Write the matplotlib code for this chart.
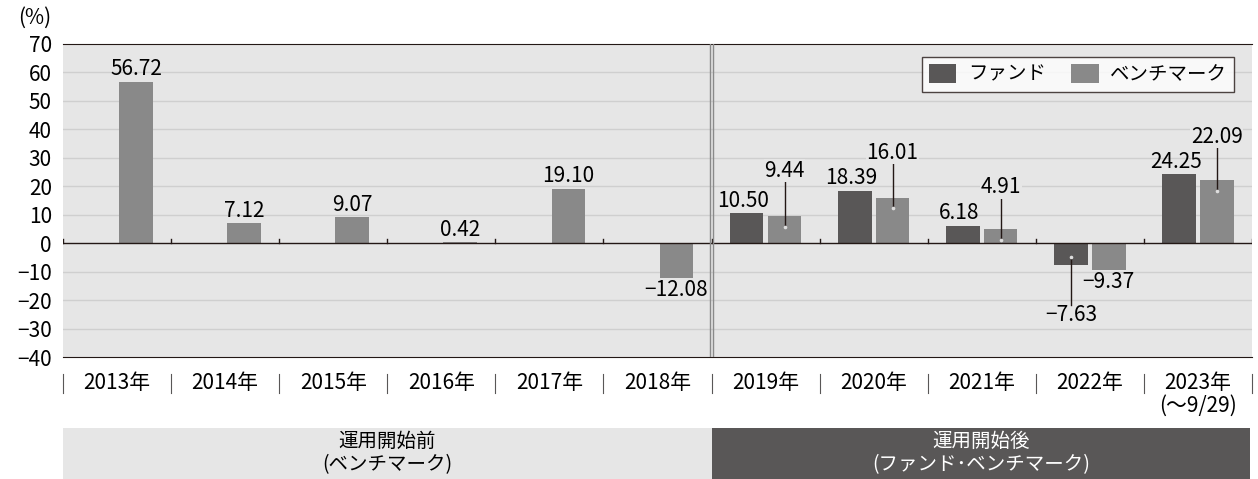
import numpy as np
import matplotlib
matplotlib.use("Agg")
import matplotlib.pyplot as plt
from matplotlib.patches import Rectangle, Patch

plt.rcParams['font.family'] = ['Noto Sans CJK JP', 'DejaVu Sans']

# ******* data *******
years = ['2013年', '2014年', '2015年', '2016年', '2017年', '2018年',
         '2019年', '2020年', '2021年', '2022年', '2023年']
fund = [None, None, None, None, None, None, 10.50, 18.39, 6.18, -7.63, 24.25]
bench = [56.72, 7.12, 9.07, 0.42, 19.10, -12.08, 9.44, 16.01, 4.91, -9.37, 22.09]
yticks = [70, 60, 50, 40, 30, 20, 10, 0, -10, -20, -30, -40]
# label y-position (value units) for labels that use a leader line
fund_lead = {9: -25.1}
bench_lead = {6: 25.5, 7: 31.8, 8: 19.6, 10: 37.4}

c_fund = '#595757'
c_bench = '#898989'
c_bg = '#e6e6e6'
fs = 15

fig = plt.figure(figsize=[12.58, 4.79], dpi=100)
ax = fig.add_axes([63 / 1258, 1 - 357 / 479, (1252 - 63) / 1258, (357 - 44) / 479])
ax.set_facecolor(c_bg)
ax.set_xlim(0, 11)
ax.set_ylim(-40, 70)

for y in yticks[1:-1]:
    if y != 0:
        ax.axhline(y, color='#cfcfcf', lw=1, zorder=0)

w = 0.31
off = 0.175
x = np.arange(len(years)) + 0.5
for i in range(len(years)):
    # benchmark
    xb = x[i] + off
    v = bench[i]
    ax.bar(xb, v, width=w, color=c_bench, zorder=2)
    if i in bench_lead:
        ly = bench_lead[i]
        ax.plot([xb, xb], [v - 3.8, ly - 3.2], color='#231815', lw=1, zorder=3,
                solid_capstyle='round')
        ax.plot(xb, v - 3.8, 'o', ms=1.6, color='#dddddd', zorder=4)
        ax.text(xb, ly, f"{v:.2f}".replace('-', '−'), ha='center', va='center',
                fontsize=fs, zorder=5,
                bbox=dict(facecolor=c_bg, edgecolor='none', pad=0.5))
    else:
        ax.annotate(f"{v:.2f}".replace('-', '−'), (xb, v),
                    xytext=(0, 1 if v >= 0 else -1), textcoords='offset points',
                    ha='center', va='bottom' if v >= 0 else 'top', fontsize=fs,
                    zorder=5)
    # fund
    if fund[i] is not None:
        xf = x[i] - off
        v = fund[i]
        ax.bar(xf, v, width=w, color=c_fund, zorder=2)
        if i in fund_lead:
            ly = fund_lead[i]
            ax.plot([xf, xf], [v + 2.7, ly + 3.2], color='#231815', lw=1, zorder=3)
            ax.plot(xf, v + 2.7, 'o', ms=1.6, color='#dddddd', zorder=4)
            ax.text(xf, ly, f"{v:.2f}".replace('-', '−'), ha='center', va='center',
                    fontsize=fs, zorder=5)
        else:
            ax.annotate(f"{v:.2f}", (xf - 0.03, v), xytext=(0, 1),
                        textcoords='offset points', ha='center', va='bottom',
                        fontsize=fs, zorder=5)

# zero line with small upward ticks at category boundaries
ax.axhline(0, color='#231815', lw=1, zorder=3)
for b in range(len(years) + 1):
    ax.plot([b, b], [0, 1.5], color='#231815', lw=1, zorder=3)

# divider between before / after
ax.axvline(5.985, color='#8a8a8a', lw=1, zorder=4)
ax.axvline(6.015, color='#8a8a8a', lw=1, zorder=4)

ax.set_yticks(yticks)
ax.set_yticklabels([str(t).replace('-', '−') for t in yticks], fontsize=fs)
ax.tick_params(axis='y', length=0, pad=8)
ax.set_xticks([])
for s in ['left', 'right']:
    ax.spines[s].set_visible(False)
ax.spines['top'].set_color('#231815')
ax.spines['bottom'].set_color('#231815')
fig.text(18 / 1258, 1 - 18 / 479, '(%)', fontsize=fs, va='center', ha='left')

handles = [Patch(facecolor=c_fund, edgecolor='none', label='ファンド'),
           Patch(facecolor=c_bench, edgecolor='none', label='ベンチマーク')]
leg = ax.legend(handles=handles, ncol=2, loc='upper right',
                bbox_to_anchor=((1234 - 63) / (1252 - 63), 1 - (57 - 44) / 313),
                fontsize=14, frameon=True, fancybox=False, borderpad=0.35,
                handlelength=1.4, handleheight=1.1, handletextpad=0.6,
                columnspacing=1.3, borderaxespad=0)
leg.get_frame().set_edgecolor('#231815')
leg.get_frame().set_linewidth(1)
leg.get_frame().set_facecolor('white')

# ******** category labels below the axis ********
x0, x1 = 63, 1252
cw = (x1 - x0) / len(years)
for k in range(len(years) + 1):
    xs = (x0 + k * cw) / 1258
    fig.add_artist(plt.Line2D([xs, xs], [1 - 374 / 479, 1 - 393 / 479],
                              color='#595757', lw=0.8))
for k, lab in enumerate(years):
    xc = (x0 + (k + 0.5) * cw) / 1258
    fig.text(xc, 1 - 383 / 479, lab, fontsize=fs, ha='center', va='center')
fig.text((x0 + 10.5 * cw) / 1258, 1 - 406 / 479, '(〜9/29)', fontsize=fs,
         ha='center', va='center')

# ******** period bands ********
mid = x0 + 6 * cw
fig.add_artist(Rectangle((x0 / 1258, 0), (mid - x0) / 1258, (479 - 428) / 479,
                         transform=fig.transFigure, facecolor=c_bg, edgecolor='none'))
fig.add_artist(Rectangle((mid / 1258, 0), (1250 - mid) / 1258, (479 - 428) / 479,
                         transform=fig.transFigure, facecolor=c_fund, edgecolor='none'))
fig.text((x0 + mid) / 2 / 1258, 1 - 453 / 479, '運用開始前\n(ベンチマーク)', fontsize=14,
         ha='center', va='center', linespacing=1.15)
fig.text((mid + 1250) / 2 / 1258, 1 - 453 / 479, '運用開始後\n(ファンド･ベンチマーク)',
         fontsize=14, ha='center', va='center', color='white', linespacing=1.15)

fig.savefig('out.png', dpi=100)
